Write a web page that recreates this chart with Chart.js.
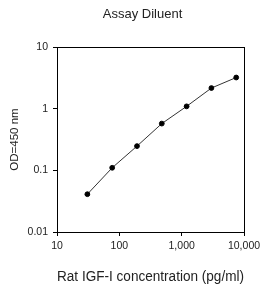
<!DOCTYPE html>
<html><head><meta charset="utf-8">
<script src="https://cdn.jsdelivr.net/npm/chart.js@4"></script>
<style>html,body{margin:0;padding:0;background:#fff}#w{width:269px;height:287px}</style>
</head><body><div id="w"><canvas id="c"></canvas></div>
<script>
const concentrations = [30.7, 76.8, 192, 480, 1200, 3000, 7500];
const odValues = [0.041, 0.110, 0.247, 0.573, 1.09, 2.16, 3.2];
const xTicks = [10, 100, 1000, 10000];
const xTickLabels = ["10", "100", "1,000", "10,000"];
const yTicks = [0.01, 0.1, 1, 10];
const yTickLabels = ["0.01", "0.1", "1", "10"];

const frame = {
  id: 'frame',
  afterDraw(chart) {
    const a = chart.chartArea, ctx = chart.ctx;
    ctx.save(); ctx.strokeStyle = '#000'; ctx.lineWidth = 1;
    ctx.strokeRect(Math.round(a.left) + 0.5, Math.round(a.top) + 0.5, Math.round(a.right - a.left), Math.round(a.bottom - a.top));
    ctx.restore();
  }
};
const font = { family: 'Liberation Sans, Arial, sans-serif' };
new Chart(document.getElementById('c'), {
  type: 'scatter',
  data: { datasets: [{
    data: concentrations.map((x, i) => ({ x, y: odValues[i] })),
    showLine: true, borderColor: '#333', borderWidth: 1,
    pointBackgroundColor: '#000', pointBorderColor: '#000', pointRadius: 2.4, pointHoverRadius: 2.4
  }]},
  options: {
    responsive: true, maintainAspectRatio: false, animation: false,
    layout: { padding: { left: 16, right: 0, top: 0, bottom: 0 } },
    plugins: {
      legend: { display: false }, tooltip: { enabled: false },
      title: { display: true, text: 'Assay Diluent', color: '#222', font: { ...font, size: 13, weight: 'normal' }, padding: { top: 6.2, bottom: 25.2 } }
    },
    scales: {
      x: {
        type: 'logarithmic', min: 10, max: 10000,
        afterBuildTicks: s => { s.ticks = xTicks.map(v => ({ value: v })); },
        afterFit: s => { s.height = 55; },
        ticks: { callback: (v) => xTickLabels[xTicks.indexOf(v)], color: '#222', font: { ...font, size: 10.5 }, maxRotation: 0, autoSkip: false, padding: 4 },
        grid: { drawOnChartArea: false, drawTicks: true, tickLength: 4, color: '#000' },
        border: { color: '#000', width: 1 },
        title: { display: true, text: 'Rat IGF-I concentration (pg/ml)', color: '#222', font: { ...font, size: 14 }, padding: { top: 0, bottom: 1.6 } }
      },
      y: {
        type: 'logarithmic', min: 0.01, max: 10,
        afterBuildTicks: s => { s.ticks = yTicks.map(v => ({ value: v })); },
        afterFit: s => { s.width = 41; },
        ticks: { callback: (v) => yTickLabels[yTicks.indexOf(v)], color: '#222', font: { ...font, size: 10.5 }, autoSkip: false, padding: 5 },
        grid: { drawOnChartArea: false, drawTicks: true, tickLength: 4, color: '#000' },
        border: { color: '#000', width: 1 },
        title: { display: true, text: 'OD=450 nm', color: '#222', font: { ...font, size: 11.5 }, padding: { top: -7.9, bottom: 0 } }
      },
      spacer: {
        type: 'linear', position: 'right', display: true,
        afterFit: s => { s.width = 25; },
        ticks: { display: false },
        grid: { display: false, drawTicks: false },
        border: { display: false }
      }
    }
  },
  plugins: [frame]
});
</script></body></html>
